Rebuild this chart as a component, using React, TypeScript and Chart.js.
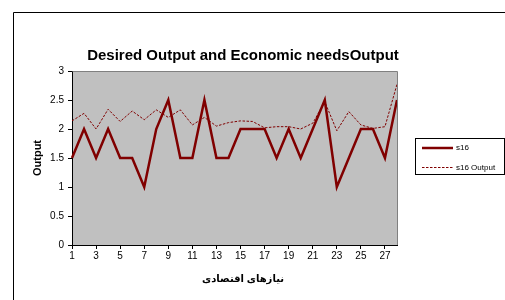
import React, { useEffect, useRef } from "react";
import { Chart, registerables } from "chart.js";

Chart.register(...registerables);

const categories: string[] = Array.from({ length: 28 }, (_, i) => String(i + 1));
const s16: number[] = [1.5, 2, 1.5, 2, 1.5, 1.5, 1, 2, 2.5, 1.5, 1.5, 2.5, 1.5, 1.5, 2, 2, 2, 1.5, 2, 1.5, 2, 2.5, 1, 1.5, 2, 2, 1.5, 2.5];
const s16Output: number[] = [2.14, 2.27, 2.0, 2.34, 2.13, 2.31, 2.16, 2.33, 2.2, 2.33, 2.07, 2.2, 2.05, 2.11, 2.14, 2.13, 2.02, 2.04, 2.04, 2.0, 2.1, 2.47, 1.97, 2.3, 2.07, 2.01, 2.04, 2.77];
const yTicks: number[] = [0, 0.5, 1, 1.5, 2, 2.5, 3];

const chartTitle = "Desired Output and Economic needsOutput";
const yTitle = "Output";
const xTitle = "نیازهای اقتصادی";
const seriesNames = ["s16", "s16 Output"];
const lineColor = "#800000";

const decorPlugin = {
  id: "decor",
  beforeDraw(chart: any) {
    const { ctx, chartArea } = chart;
    ctx.save();
    ctx.fillStyle = "#ffffff";
    ctx.fillRect(0, 0, chart.width, chart.height);
    ctx.fillStyle = "#C0C0C0";
    ctx.fillRect(chartArea.left, chartArea.top, chartArea.right - chartArea.left, chartArea.bottom - chartArea.top);
    ctx.restore();
  },
  afterDraw(chart: any) {
    const { ctx, chartArea } = chart;
    ctx.save();
    ctx.strokeStyle = "#808080";
    ctx.lineWidth = 1;
    ctx.beginPath();
    ctx.moveTo(Math.round(chartArea.left) + 0.5, Math.round(chartArea.top) + 0.5);
    ctx.lineTo(Math.round(chartArea.right) + 0.5, Math.round(chartArea.top) + 0.5);
    ctx.lineTo(Math.round(chartArea.right) + 0.5, Math.round(chartArea.bottom));
    ctx.stroke();
    ctx.strokeStyle = "#000000";
    ctx.beginPath();
    ctx.moveTo(13.5, 300);
    ctx.lineTo(13.5, 12.5);
    ctx.lineTo(505, 12.5);
    ctx.stroke();
    ctx.fillStyle = "#000000";
    ctx.textAlign = "center";
    ctx.textBaseline = "middle";
    ctx.font = "bold 15px Arial, 'Liberation Sans', sans-serif";
    ctx.fillText(chartTitle, 243, 56);
    ctx.save();
    ctx.translate(38, 158);
    ctx.rotate(-Math.PI / 2);
    ctx.font = "bold 11px Arial, 'Liberation Sans', sans-serif";
    ctx.fillText(yTitle, 0, 0);
    ctx.restore();
    ctx.font = "bold 10px Arial, 'DejaVu Sans', sans-serif";
    ctx.fillText(xTitle, 243, 279);
    ctx.fillStyle = "#ffffff";
    ctx.fillRect(415.5, 138.5, 89, 36);
    ctx.strokeStyle = "#000000";
    ctx.lineWidth = 1;
    ctx.strokeRect(415.5, 138.5, 89, 36);
    ctx.strokeStyle = lineColor;
    ctx.lineWidth = 2.5;
    ctx.beginPath();
    ctx.moveTo(422, 148);
    ctx.lineTo(453, 148);
    ctx.stroke();
    ctx.lineWidth = 1;
    ctx.setLineDash([2.5, 1.5]);
    ctx.beginPath();
    ctx.moveTo(422, 167.5);
    ctx.lineTo(453, 167.5);
    ctx.stroke();
    ctx.setLineDash([]);
    ctx.fillStyle = "#000000";
    ctx.textAlign = "left";
    ctx.font = "8px Arial, 'Liberation Sans', sans-serif";
    ctx.fillText(seriesNames[0], 456, 148);
    ctx.fillText(seriesNames[1], 456, 167.5);
    ctx.restore();
  },
};

export default function App() {
  const canvasRef = useRef<HTMLCanvasElement | null>(null);

  useEffect(() => {
    document.body.style.margin = "0";
    const canvas = canvasRef.current;
    if (!canvas) return;
    const chart = new Chart(canvas, {
      type: "line",
      data: {
        labels: categories,
        datasets: [
          {
            label: seriesNames[0],
            data: s16,
            borderColor: lineColor,
            borderWidth: 2.5,
            pointRadius: 0,
            tension: 0,
            fill: false,
          },
          {
            label: seriesNames[1],
            data: s16Output,
            borderColor: lineColor,
            borderWidth: 1,
            borderDash: [2.5, 1.5],
            pointRadius: 0,
            tension: 0,
            fill: false,
          },
        ],
      },
      options: {
        responsive: false,
        animation: false,
        devicePixelRatio: 1,
        layout: { padding: { left: 14, right: 108, top: 71, bottom: 0 } },
        plugins: {
          legend: { display: false },
          title: { display: false },
          tooltip: { enabled: false },
        },
        scales: {
          x: {
            type: "category",
            offset: false,
            afterFit: (scale: any) => {
              scale.height = 55;
            },
            grid: {
              display: true,
              drawOnChartArea: false,
              drawTicks: true,
              tickLength: 4,
              color: "#000000",
              offset: false,
            },
            border: { display: true, color: "#000000", width: 1 },
            ticks: {
              autoSkip: false,
              maxRotation: 0,
              padding: 1,
              color: "#000000",
              font: { family: "Arial, 'Liberation Sans', sans-serif", size: 10 },
              callback: (_v: any, i: number) => (i % 2 === 0 ? categories[i] : null),
            },
          },
          y: {
            min: 0,
            max: 3,
            afterFit: (scale: any) => {
              scale.width = 58;
            },
            afterBuildTicks: (scale: any) => {
              scale.ticks = yTicks.map((v) => ({ value: v }));
            },
            grid: {
              display: true,
              drawOnChartArea: false,
              drawTicks: true,
              tickLength: 4,
              color: "#000000",
            },
            border: { display: true, color: "#000000", width: 1 },
            ticks: {
              padding: 4,
              color: "#000000",
              font: { family: "Arial, 'Liberation Sans', sans-serif", size: 10 },
              callback: (v: any) => String(v),
            },
          },
        },
      },
      plugins: [decorPlugin],
    });
    return () => chart.destroy();
  }, []);

  return (
    <div style={{ width: 505, height: 300 }}>
      <canvas ref={canvasRef} width={505} height={300} style={{ display: "block", width: 505, height: 300 }} />
    </div>
  );
}
